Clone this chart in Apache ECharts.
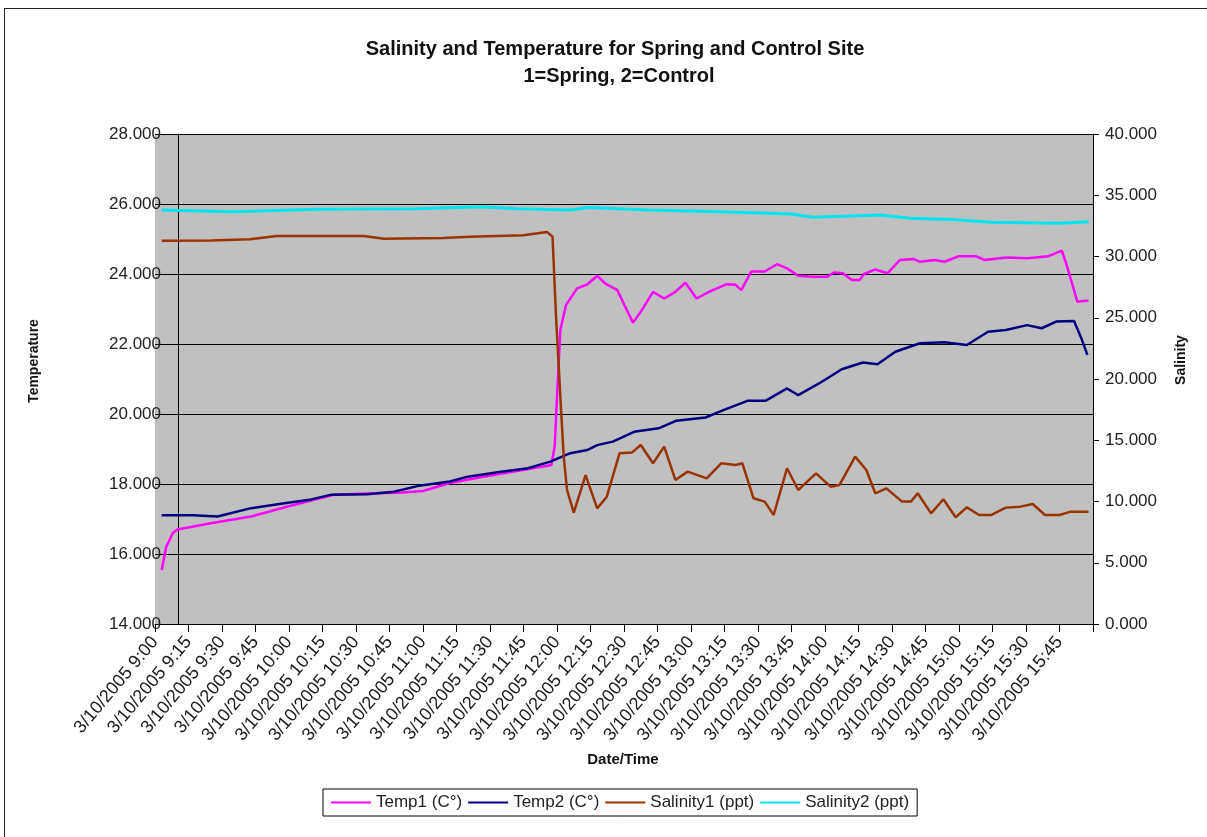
<!DOCTYPE html>
<meta charset="utf-8">
<title>Salinity and Temperature for Spring and Control Site</title>
<style>
body { margin: 0; background: #fff; overflow: hidden; }
#frame {
  position: absolute; left: 4px; top: 8px; width: 1300px; height: 900px;
  border-top: 1px solid #222; border-left: 1px solid #222;
}
#main { position: absolute; left: 0; top: 0; width: 1207px; height: 837px; }
</style>
<body>
<div id="frame"></div>
<div id="main"></div>
<script src="https://cdn.jsdelivr.net/npm/echarts/dist/echarts.min.js"></script>
<script>
// time = minutes after 3/10/2005 9:00
var temp1Time = [3, 5, 8, 10, 25, 43, 62, 80, 95, 111, 120, 132, 147, 160, 170, 177.5, 179, 180, 181.5, 184, 189, 193.5, 198, 201.5, 207, 210.5, 214, 217.5, 223, 228, 233, 237.5, 242.5, 248, 256, 260, 262.5, 267, 273, 278.5, 283, 288, 294.5, 301, 304, 308, 312, 315.5, 317.5, 322.5, 328, 333.5, 339.5, 342.5, 349, 353.5, 360, 367.5, 371.5, 381, 390.5, 400, 406, 408, 413, 418];
var temp1Vals = [15.54, 16.2, 16.6, 16.7, 16.88, 17.07, 17.4, 17.69, 17.73, 17.76, 17.8, 18.03, 18.21, 18.35, 18.46, 18.54, 19.1, 20.5, 22.4, 23.11, 23.59, 23.7, 23.95, 23.73, 23.54, 23.07, 22.61, 22.92, 23.49, 23.3, 23.49, 23.75, 23.3, 23.49, 23.71, 23.69, 23.54, 24.07, 24.07, 24.28, 24.16, 23.95, 23.92, 23.92, 24.04, 24.02, 23.83, 23.83, 24.0, 24.13, 24.02, 24.4, 24.43, 24.35, 24.4, 24.35, 24.51, 24.51, 24.4, 24.47, 24.45, 24.51, 24.67, 24.3, 23.21, 23.24];

var temp2Time = [3, 17, 28, 43, 58, 70, 78.5, 95, 107, 117.5, 132, 140, 155, 167, 177, 186, 193.5, 198, 205, 214.5, 225.5, 233.5, 246.5, 254.5, 265.5, 273.5, 283, 288, 297.5, 307.5, 317, 323.5, 331.5, 342.5, 353.5, 363.5, 373, 381, 390.5, 397, 403.5, 411.5, 414.5, 417.5];
var temp2Vals = [17.11, 17.11, 17.07, 17.31, 17.45, 17.56, 17.69, 17.71, 17.78, 17.94, 18.07, 18.21, 18.35, 18.45, 18.64, 18.88, 18.97, 19.11, 19.21, 19.49, 19.59, 19.81, 19.9, 20.11, 20.38, 20.38, 20.73, 20.54, 20.88, 21.28, 21.47, 21.42, 21.78, 22.02, 22.05, 21.97, 22.35, 22.4, 22.54, 22.45, 22.64, 22.66, 22.21, 21.69];

var sal1Time = [3, 25, 42.5, 54.5, 93.5, 102.5, 129, 141, 165, 175.5, 178, 179.5, 181.5, 183, 184.5, 187.5, 192.8, 198, 202.3, 208, 213.5, 217.5, 223, 228, 233, 238.5, 247, 253.5, 260, 263, 268, 273, 277, 283, 288, 296, 302.5, 306.5, 313.5, 318.5, 322.5, 327.5, 334.5, 338.5, 341.5, 347.5, 353, 358.5, 363.5, 369, 374.5, 381, 387.5, 393, 398.5, 405, 410, 418];
var sal1Vals = [31.29, 31.3, 31.4, 31.67, 31.67, 31.45, 31.51, 31.62, 31.73, 32.0, 31.62, 25.36, 18.56, 13.66, 10.94, 9.1, 12.16, 9.44, 10.39, 13.93, 13.99, 14.61, 13.12, 14.48, 11.76, 12.44, 11.89, 13.12, 12.98, 13.12, 10.26, 9.99, 8.9, 12.71, 10.94, 12.3, 11.21, 11.35, 13.66, 12.57, 10.67, 11.07, 9.99, 9.99, 10.67, 9.03, 10.18, 8.71, 9.52, 8.9, 8.9, 9.5, 9.58, 9.8, 8.9, 8.9, 9.17, 9.17];

var sal2Time = [3, 35, 72.5, 117.5, 146, 162, 186, 194, 221, 253, 285, 294.5, 325, 338, 357, 374.5, 405, 418];
var sal2Vals = [33.8, 33.66, 33.85, 33.9, 34.07, 33.9, 33.8, 34.0, 33.8, 33.66, 33.47, 33.2, 33.39, 33.12, 33.03, 32.79, 32.71, 32.84];

var seriesNames = ['Temp1 (C°)', 'Temp2 (C°)', 'Salinity1 (ppt)', 'Salinity2 (ppt)'];
var seriesColors = ['#ff00ff', '#000080', '#993300', '#00e5f0'];

function pairs(t, v) {
  return t.map(function (x, i) { return [x, v[i]]; });
}

function timeLabel(m) {
  if (m >= 420) return '';
  var h = 9 + Math.floor(m / 60);
  var mm = m % 60;
  return '3/10/2005 ' + h + ':' + (mm < 10 ? '0' + mm : mm);
}

var font = "'Liberation Sans', Arial, sans-serif";
var nameStyle = { fontSize: 14, fontWeight: 'bold', fill: '#111', fontFamily: font };
var myChart = echarts.init(document.getElementById('main'));

var option = {
  animation: false,
  textStyle: { fontFamily: font },
  title: [
    { text: 'Salinity and Temperature for Spring and Control Site', left: 610, top: 34, textAlign: 'center',
      textStyle: { fontSize: 20, fontWeight: 'bold', color: '#111', fontFamily: font } },
    { text: '1=Spring, 2=Control', left: 614, top: 61, textAlign: 'center',
      textStyle: { fontSize: 20, fontWeight: 'bold', color: '#111', fontFamily: font } }
  ],
  // axis titles
  graphic: [
    { type: 'text', rotation: Math.PI / 2, x: 34, y: 361,
      style: Object.assign({ text: 'Temperature', align: 'center', verticalAlign: 'middle' }, nameStyle) },
    { type: 'text', rotation: Math.PI / 2, x: 1181, y: 360,
      style: Object.assign({ text: 'Salinity', align: 'center', verticalAlign: 'middle' }, nameStyle) },
    { type: 'text', x: 623, y: 760,
      style: Object.assign({ text: 'Date/Time', align: 'center', verticalAlign: 'middle' }, nameStyle, { fontSize: 15 }) }
  ],
  grid: { left: 155, right: 114, top: 134, bottom: 213, show: true, backgroundColor: '#c0c0c0', borderWidth: 0 },
  legend: {
    left: 323, top: 789, icon: 'rect', itemWidth: 40, itemHeight: 2, itemGap: 6,
    borderColor: '#000', borderWidth: 1, padding: [5, 8],
    textStyle: { fontSize: 17, color: '#222', fontFamily: font },
    data: seriesNames
  },
  xAxis: {
    type: 'value', min: 0, max: 420, interval: 15,
    axisLine: { onZero: false, lineStyle: { color: '#000', width: 1 } },
    axisTick: { length: 8, lineStyle: { color: '#000' } },
    axisLabel: { rotate: 50, fontSize: 18, color: '#1a1a1a', margin: 15, formatter: timeLabel },
    splitLine: { show: false }
  },
  yAxis: [
    {
      type: 'value', min: 14, max: 28, interval: 2, offset: -23,
      axisLine: { show: true, lineStyle: { color: '#000' } },
      axisTick: { length: 16, lineStyle: { color: '#000' } },
      axisLabel: { fontSize: 17, color: '#222', margin: 17, formatter: function (v) { return v.toFixed(3); } },
      splitLine: { lineStyle: { color: '#000', width: 1 } }
    },
    {
      type: 'value', min: 0, max: 40, interval: 5, position: 'right',
      axisLine: { show: true, lineStyle: { color: '#000' } },
      axisTick: { length: 6, lineStyle: { color: '#000' } },
      axisLabel: { fontSize: 17, color: '#222', margin: 12, formatter: function (v) { return v.toFixed(3); } },
      splitLine: { show: false }
    }
  ],
  series: [
    { name: seriesNames[0], type: 'line', yAxisIndex: 0, data: pairs(temp1Time, temp1Vals) },
    { name: seriesNames[1], type: 'line', yAxisIndex: 0, data: pairs(temp2Time, temp2Vals) },
    { name: seriesNames[2], type: 'line', yAxisIndex: 1, data: pairs(sal1Time, sal1Vals) },
    { name: seriesNames[3], type: 'line', yAxisIndex: 1, data: pairs(sal2Time, sal2Vals) }
  ].map(function (s, i) {
    s.showSymbol = false;
    s.symbol = 'none';
    s.color = seriesColors[i];
    s.lineStyle = { width: i === 3 ? 3 : 2.5, color: seriesColors[i] };
    return s;
  })
};

myChart.setOption(option);
</script>
</body>
